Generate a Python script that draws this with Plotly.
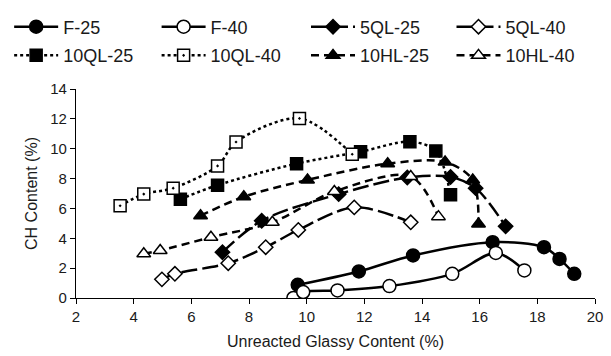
import plotly.graph_objects as go

# ---- data ----
f25_x = [9.69, 11.81, 13.69, 16.45, 18.23, 18.77, 19.28]
f25_y = [0.88, 1.78, 2.85, 3.74, 3.40, 2.62, 1.62]

f40_x = [9.54, 9.88, 11.07, 12.87, 15.05, 16.56, 17.55]
f40_y = [0.0, 0.40, 0.51, 0.80, 1.62, 3.02, 1.85]

q5_25_x = [7.08, 8.44, 11.11, 13.49, 14.99, 15.86, 16.90]
q5_25_y = [3.07, 5.18, 6.96, 8.07, 8.11, 7.36, 4.80]

q5_40_x = [4.98, 5.43, 7.28, 8.58, 9.71, 11.65, 13.61]
q5_40_y = [1.25, 1.62, 2.33, 3.40, 4.56, 6.07, 5.07]

q10_25_x = [5.62, 6.91, 9.65, 11.87, 13.58, 14.48, 14.99]
q10_25_y = [6.62, 7.56, 9.00, 9.80, 10.47, 9.85, 6.91]

q10_40_x = [3.53, 4.35, 5.37, 6.91, 7.55, 9.75, 11.58]
q10_40_y = [6.18, 6.96, 7.36, 8.85, 10.45, 12.03, 9.63]

h10_25_x = [6.32, 7.82, 10.03, 12.81, 14.80, 15.76, 15.96]
h10_25_y = [5.51, 6.78, 7.91, 9.00, 9.11, 7.91, 4.96]

h10_40_x = [4.35, 4.92, 6.68, 8.81, 10.96, 13.61, 14.57]
h10_40_y = [2.96, 3.18, 4.07, 5.07, 7.13, 8.14, 5.45]

x_ticks = [2, 4, 6, 8, 10, 12, 14, 16, 18, 20]
y_ticks = [0, 2, 4, 6, 8, 10, 12, 14]

series = [
    ("F-25", f25_x, f25_y, "solid", "circle", "black", 13),
    ("F-40", f40_x, f40_y, "solid", "circle", "white", 13),
    ("5QL-25", q5_25_x, q5_25_y, "16px,5px", "diamond", "black", 11),
    ("5QL-40", q5_40_x, q5_40_y, "16px,5px", "diamond", "white", 11),
    ("10QL-25", q10_25_x, q10_25_y, "dot", "square", "black", 12),
    ("10QL-40", q10_40_x, q10_40_y, "dot", "square-dot", "white", 12),
    ("10HL-25", h10_25_x, h10_25_y, "8px,5px", "triangle-up", "black", 12),
    ("10HL-40", h10_40_x, h10_40_y, "8px,5px", "triangle-up", "white", 12),
]

fig = go.Figure()
legend_ids = ["legend"] + ["legend%d" % i for i in range(2, 9)]
for (name, xs, ys, dash, sym, fill, size), lg in zip(series, legend_ids):
    fig.add_trace(go.Scatter(
        x=xs, y=ys, name=name, mode="lines+markers", legend=lg,
        line=dict(color="black", width=2.5, dash=dash,
                  shape="spline", smoothing=0.9),
        marker=dict(symbol=sym, size=size, color=fill,
                    line=dict(color="black", width=1.5)),
    ))

leg_common = dict(orientation="h", xanchor="left", yanchor="top",
                  font=dict(size=18, color="#1a1a1a"), itemwidth=44,
                  bgcolor="rgba(0,0,0,0)")
col_x = [-0.1288, 0.1553, 0.4432, 0.7235]
row_y = [1.385, 1.248]
legends = {}
for i, lg in enumerate(legend_ids):
    legends[lg] = dict(x=col_x[i % 4], y=row_y[i // 4], **leg_common)

fig.update_layout(
    width=611, height=356,
    margin=dict(l=76, r=8, t=87, b=58),
    paper_bgcolor="white", plot_bgcolor="white",
    font=dict(family="Liberation Sans, Arial, sans-serif", size=15, color="#1a1a1a"),
    showlegend=True,
    **legends,
    xaxis=dict(range=[2, 20], tickvals=x_ticks, ticks="outside", ticklen=5,
               showline=True, linecolor="black", linewidth=1.2, tickcolor="black",
               showgrid=False, zeroline=False, ticklabeloverflow="allow",
               title=dict(text="Unreacted Glassy Content (%)", standoff=11,
                          font=dict(size=16))),
    yaxis=dict(range=[0, 14], tickvals=y_ticks, ticks="outside", ticklen=5,
               showline=True, linecolor="black", linewidth=1.2, tickcolor="black",
               showgrid=False, zeroline=False,
               title=dict(text="CH Content (%)", standoff=8, font=dict(size=16))),
)

fig.write_html("out.html")
